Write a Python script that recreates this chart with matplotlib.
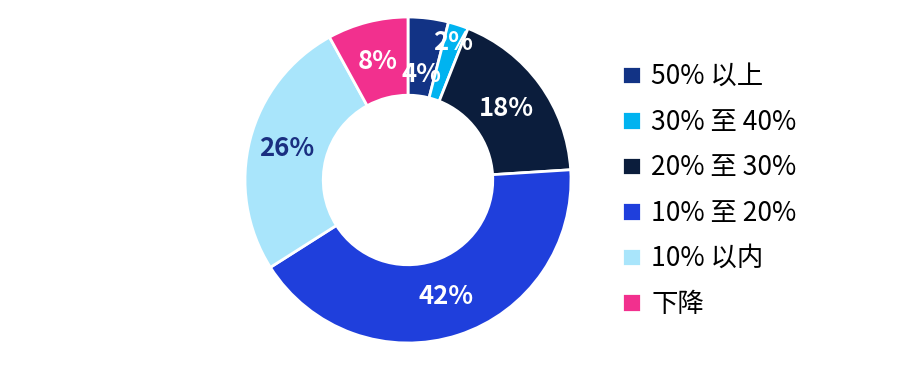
import matplotlib
matplotlib.use("Agg")
from matplotlib import pyplot as plt

plt.rcParams['font.family'] = ['Noto Sans CJK SC', 'DejaVu Sans']

# 数据
categories = ["50% 以上", "30% 至 40%", "20% 至 30%", "10% 至 20%", "10% 以内", "下降"]
shares = [4, 2, 18, 42, 26, 8]
colors = ["#123385", "#00b3f0", "#0b1d3c", "#1f3fdc", "#a9e5fb", "#f2308e"]
label_colors = ["white", "white", "white", "white", "#1a2f80", "white"]
label_dist = [0.65, 0.89, 0.75, 0.75, 0.77, 0.75]   # 小扇区标签位置单独调

fig = plt.figure(figsize=(9, 3.75), dpi=100)
R = 163
cx, cy = 408, 180
ax = fig.add_axes([(cx - R) / 900, (375 - cy - R) / 375, 2 * R / 900, 2 * R / 375])

wedges, texts, autotexts = ax.pie(
    shares, colors=colors, startangle=90, counterclock=False, radius=1,
    wedgeprops=dict(width=0.48, edgecolor="white", linewidth=2),
    autopct=lambda p: f"{round(p)}%", pctdistance=0.75,
    textprops=dict(fontsize=18.5, fontweight="bold"))
for w, t, c, d in zip(wedges, autotexts, label_colors, label_dist):
    t.set_color(c)
    x, y = t.get_position()
    t.set_position((x / 0.75 * d, y / 0.75 * d))
ax.set_xlim(-1, 1)
ax.set_ylim(-1, 1)
ax.axis("off")

fig.legend(wedges, categories, loc="upper left", bbox_to_anchor=(609 / 900, 1 - 50 / 375),
           frameon=False, fontsize=19, handlelength=0.7, handleheight=0.7,
           handletextpad=0.4, labelspacing=0.70, borderpad=0)

fig.savefig("out.png", dpi=100)
